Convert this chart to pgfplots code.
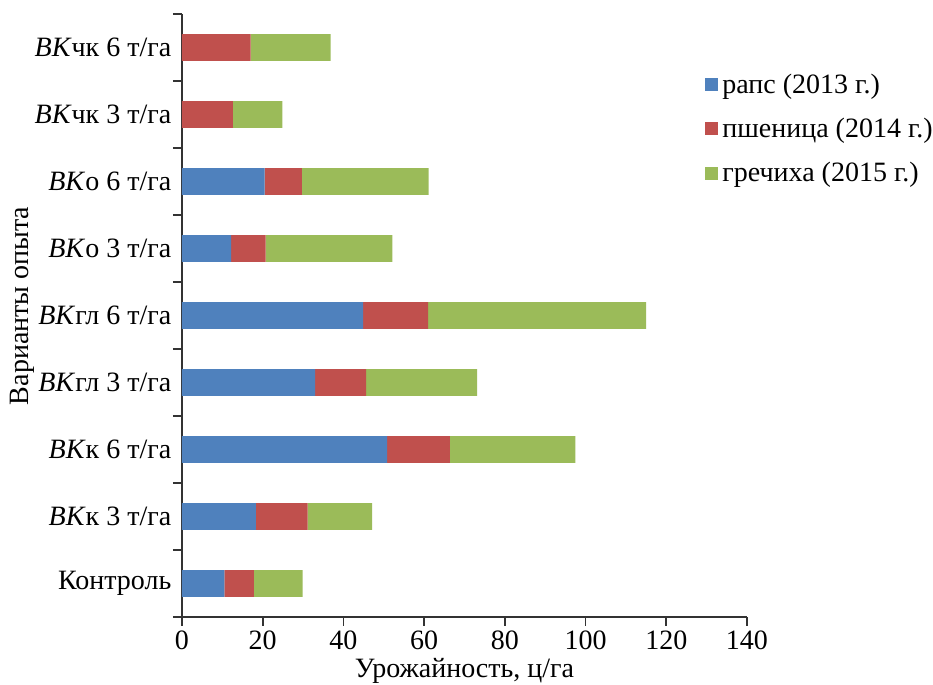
\documentclass[border=0pt]{standalone}
\usepackage{fontspec}
\setmainfont{Liberation Serif}
\usepackage{pgfplots}
\pgfplotsset{compat=1.18}
\definecolor{cb}{HTML}{4F81BD}
\definecolor{cr}{HTML}{C0504D}
\definecolor{cg}{HTML}{9BBB59}
\newcommand{\fs}{\fontsize{14pt}{17pt}\selectfont}
\begin{document}
\fs
\begin{tikzpicture}
\begin{axis}[
  name=ax,
  xbar stacked,
  scale only axis,
  width=282.5pt, height=301.5pt,
  xmin=0, xmax=140, ymin=-0.5, ymax=8.5,
  axis x line*=bottom, axis y line*=left,
  axis line style={black!80, line width=0.8pt},
  xtick={0,20,...,140},
  minor xtick={0,20,...,140},
  ytick={0,...,8},
  minor ytick={-0.5,0.5,...,8.5},
  yticklabels={Контроль,\textit{ВК}к 3 т/га,\textit{ВК}к 6 т/га,\textit{ВК}гл 3 т/га,\textit{ВК}гл 6 т/га,\textit{ВК}о 3 т/га,\textit{ВК}о 6 т/га,\textit{ВК}чк 3 т/га,\textit{ВК}чк 6 т/га},
  major tick length=0pt,
  minor tick length=4.5pt,
  tick align=outside,
  minor tick style={black!80, line width=0.8pt},
  /pgf/number format/assume math mode=true,
  tick label style={font=\fs},
  xticklabel style={yshift=-2pt},
  yticklabel style={xshift=-0.5pt},
  bar width=13.35pt,
  xlabel={Урожайность, ц/га},
  ylabel={Варианты опыта},
  label style={font=\fs},
  xlabel style={yshift=5pt},
  ylabel style={at={(rel axis cs:0,0.516)}, anchor=center, yshift=80pt},
  legend style={at={(rel axis cs:0.915,0.915)}, anchor=north west, draw=none, fill=none, row sep=6.2pt, font=\fs},
  legend cell align=left,
  legend image code/.code={\fill[#1,draw=none] (-2pt,-3pt) rectangle (4.5pt,3.5pt);},
]
\addplot[fill=cb, draw=none] coordinates {(10.5,0) (18.3,1) (50.8,2) (33.0,3) (44.9,4) (12.2,5) (20.5,6) (0,7) (0,8)};
\addplot[fill=cr, draw=none] coordinates {(7.3,0) (12.8,1) (15.6,2) (12.6,3) (16.1,4) (8.5,5) (9.2,6) (12.6,7) (17.0,8)};
\addplot[fill=cg, draw=none] coordinates {(12.1,0) (16.0,1) (31.1,2) (27.5,3) (54.0,4) (31.4,5) (31.4,6) (12.3,7) (19.8,8)};
\legend{рапс (2013 г.), пшеница (2014 г.), гречиха (2015 г.)}
\end{axis}
\pgfresetboundingbox
\path[use as bounding box] ([shift={(-91pt,-34pt)}]ax.south west) rectangle ([shift={(93pt,7pt)}]ax.north east);
\end{tikzpicture}
\end{document}
